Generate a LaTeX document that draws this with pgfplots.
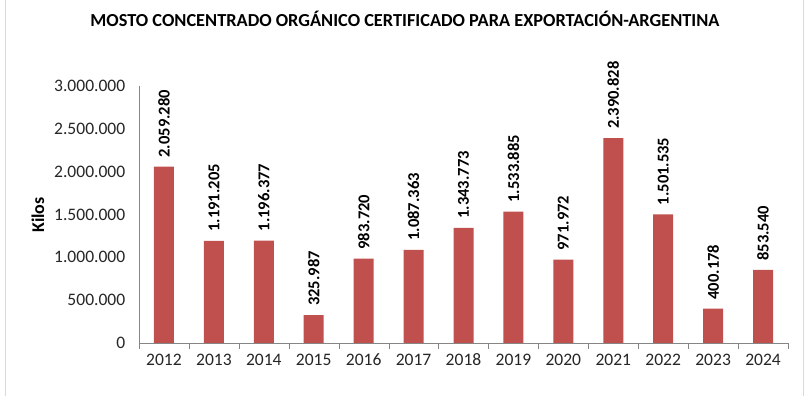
\documentclass[border=0pt]{standalone}
\usepackage{fontspec}
\setmainfont{Carlito}
\usepackage{pgfplots}
\pgfplotsset{compat=1.18}
\usepackage{pgfplotstable}
\definecolor{barred}{HTML}{C0504D}
\definecolor{axgray}{HTML}{868686}
\definecolor{bordergray}{HTML}{D9D9D9}
\pgfplotstableread{
x y lab
0 2059280 2.059.280
1 1191205 1.191.205
2 1196377 1.196.377
3 325987 325.987
4 983720 983.720
5 1087363 1.087.363
6 1343773 1.343.773
7 1533885 1.533.885
8 971972 971.972
9 2390828 2.390.828
10 1501535 1.501.535
11 400178 400.178
12 853540 853.540
}\datatable
\begin{document}
\begin{tikzpicture}
\useasboundingbox (0,0) rectangle (807bp,396bp);
\fill[white] (0,0) rectangle (807bp,396bp);
\draw[bordergray] (5bp,0) -- (5bp,396bp);
\draw[bordergray] (803bp,0) -- (803bp,396bp);
\node[font=\fontsize{18.4}{22}\selectfont\bfseries] at (405bp,377bp) {MOSTO CONCENTRADO ORGÁNICO CERTIFICADO PARA EXPORTACIÓN-ARGENTINA};
\node[rotate=90, font=\fontsize{18}{22}\selectfont\bfseries] at (38bp,181bp) {Kilos};
\begin{axis}[
  at={(139bp,53bp)}, anchor=south west,
  scale only axis, width=649bp, height=257bp,
  xmin=-0.5, xmax=12.5, ymin=0, ymax=3000000,
  axis lines=left, axis line style={axgray, -},
  xtick={0,...,12},
  xticklabels={2012,2013,2014,2015,2016,2017,2018,2019,2020,2021,2022,2023,2024},
  major x tick style={draw=none},
  minor xtick={-0.5,0.5,...,12.5},
  minor x tick style={axgray},
  minor tick length=6bp,
  tick align=outside,
  ytick={0,500000,1000000,1500000,2000000,2500000,3000000},
  yticklabels={0,500.000,1.000.000,1.500.000,2.000.000,2.500.000,3.000.000},
  major y tick style={draw=none},
  scaled y ticks=false,
  tick label style={font=\fontsize{17.6}{21}\selectfont, text=black!85},
  yticklabel style={xshift=-6bp},
  xticklabel style={yshift=-3bp},
  ybar, bar width=20bp,
  nodes near coords,
  point meta=explicit symbolic,
  every node near coord/.append style={rotate=90, anchor=west, inner xsep=0pt, xshift=9bp, font=\fontsize{16.6}{20}\selectfont\bfseries, text=black},
]
\addplot[fill=barred, draw=none] table[x=x, y=y, meta=lab] {\datatable};
\end{axis}
\end{tikzpicture}
\end{document}
